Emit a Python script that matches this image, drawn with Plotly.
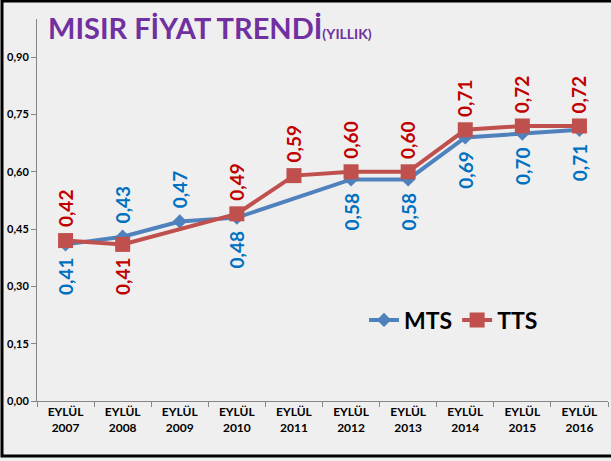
import plotly.graph_objects as go

# data
years = ["2007", "2008", "2009", "2010", "2011", "2012", "2013", "2014", "2015", "2016"]
month = "EYLÜL"
mts = [0.41, 0.43, 0.47, 0.48, None, 0.58, 0.58, 0.69, 0.70, 0.71]
tts = [0.42, 0.41, None, 0.49, 0.59, 0.60, 0.60, 0.71, 0.72, 0.72]
y_ticks = [0.0, 0.15, 0.30, 0.45, 0.60, 0.75, 0.90]

# label placement: +1 above the point, -1 below
mts_side = [-1, 1, 1, -1, -1, -1, -1, -1, -1, -1]
tts_side = [1, -1, 1, 1, 1, 1, 1, 1, 1, 1]

categories = [f"{month}<br>{y}" for y in years]

BLUE_LINE = "#4F81BD"
RED_LINE = "#C0504D"
BLUE_TXT = "#0070C0"
RED_TXT = "#C00000"
FONT = "Lato, sans-serif"

W, H = 611, 461
L, R, T, B = 37, 3, 19, 60

fig = go.Figure()

fig.add_trace(go.Scatter(
    x=categories, y=mts, name="MTS", mode="lines+markers",
    connectgaps=True,
    line=dict(color=BLUE_LINE, width=4),
    marker=dict(symbol="diamond", size=11, color=BLUE_LINE),
))
fig.add_trace(go.Scatter(
    x=categories, y=tts, name="TTS", mode="lines+markers",
    connectgaps=True,
    line=dict(color=RED_LINE, width=4),
    marker=dict(symbol="square", size=15, color=RED_LINE),
))

# rotated data labels
for vals, sides, col in [(mts, mts_side, BLUE_TXT), (tts, tts_side, RED_TXT)]:
    for cat, v, s in zip(categories, vals, sides):
        if v is None:
            continue
        fig.add_annotation(
            x=cat, y=v, xref="x", yref="y",
            text=f"{v:.2f}".replace(".", ","),
            textangle=-90, showarrow=False,
            yshift=32 * s,
            font=dict(family=FONT, size=19, color=col, weight="bold"),
        )

pw, ph = W - L - R, H - T - B

# title
fig.add_annotation(
    x=(46 - L) / pw, y=(H - B - 27) / ph,
    xref="paper", yref="paper", xanchor="left", yanchor="middle",
    showarrow=False,
    text="MISIR FİYAT TRENDİ<span style='font-size:14px'>(YILLIK)</span>",
    font=dict(family=FONT, size=29, color="#7030A0", weight="bold"),
)

# black frame round the whole picture
fig.add_shape(
    type="rect", xref="paper", yref="paper",
    x0=(2 - L) / pw, x1=(W + 10 - L) / pw,
    y0=(H - B - 456) / ph, y1=(H - B - 1) / ph,
    line=dict(color="black", width=3), fillcolor="rgba(0,0,0,0)",
    layer="above",
)

fig.update_xaxes(
    type="category", range=[-0.5, len(categories) - 0.5],
    showgrid=False, zeroline=False, automargin=False,
    showline=True, linecolor="#868686", linewidth=1,
    ticks="outside", tickson="boundaries", ticklen=5, tickcolor="#868686",
    tickfont=dict(family=FONT, size=12, color="black", weight="bold"),
)
fig.update_yaxes(
    range=[0, 1.0], tickvals=y_ticks, tickformat=".2f",
    showgrid=False, zeroline=False, automargin=False,
    showline=True, linecolor="#868686", linewidth=1,
    ticks="outside", ticklen=5, tickcolor="#868686",
    tickfont=dict(family=FONT, size=11, color="black", weight="bold"),
)

fig.update_layout(
    width=W, height=H,
    margin=dict(l=L, r=R, t=T, b=B, autoexpand=False),
    separators=",.",
    paper_bgcolor="#EFEFEF",
    plot_bgcolor="rgba(0,0,0,0)",
    font=dict(family=FONT),
    legend=dict(
        orientation="h",
        x=(364 - L) / pw, y=(H - B - 320) / ph,
        xanchor="left", yanchor="middle",
        bgcolor="rgba(0,0,0,0)",
        font=dict(family=FONT, size=23, color="black", weight="bold"),
        itemwidth=30,
    ),
)

# drop the browser's default body margin so the chart fills the window
fig.write_html(
    "out.html",
    config={"displayModeBar": False},
    post_script="document.body.style.margin='0';",
)
